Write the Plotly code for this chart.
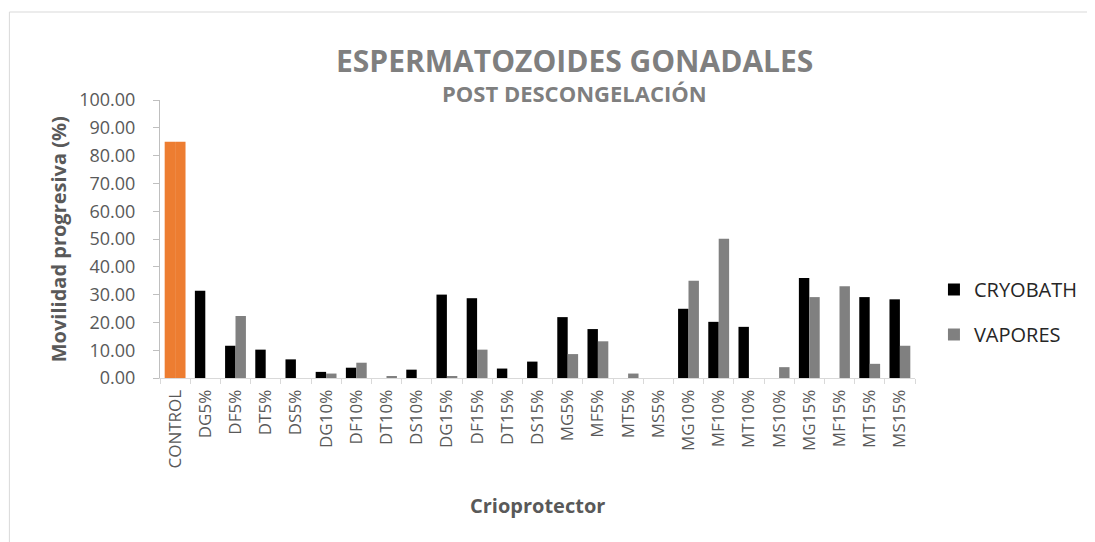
import plotly.graph_objects as go

# ---- data ----
control_label = "CONTROL"
control_value = 85.0
treatments = ["DG5%", "DF5%", "DT5%", "DS5%", "DG10%", "DF10%", "DT10%", "DS10%",
              "DG15%", "DF15%", "DT15%", "DS15%", "MG5%", "MF5%", "MT5%", "MS5%",
              "MG10%", "MF10%", "MT10%", "MS10%", "MG15%", "MF15%", "MT15%", "MS15%"]
cryobath = [31.4, 11.6, 10.2, 6.7, 2.2, 3.7, 0.0, 3.0,
            30.0, 28.7, 3.4, 5.9, 21.9, 17.6, 0.0, 0.0,
            24.9, 20.2, 18.4, 0.0, 36.0, 0.0, 29.1, 28.3]
vapores = [0.0, 22.3, 0.0, 0.0, 1.6, 5.5, 0.5, 0.0,
           0.5, 10.2, 0.0, 0.0, 8.6, 13.2, 1.6, 0.0,
           35.0, 50.1, 0.0, 3.9, 29.1, 33.0, 5.1, 11.6]
y_ticks = [0, 10, 20, 30, 40, 50, 60, 70, 80, 90, 100]

categories = [control_label] + treatments

# ---- geometry (page body has an 8px margin) ----
OFF = 8
W, H = 1095 - OFF, 542 - OFF
PL, PT = 160, 100          # plot area top-left on screen
PW, PH = 757, 278          # plot area size
L, T = PL - OFF, PT - OFF
R, B = W - L - PW, H - T - PH


def px(x):
    return (x - PL) / PW


def py(y):
    return (PT + PH - y) / PH


GREY_TXT = "#595959"
FONT = "Open Sans"

fig = go.Figure()
fig.add_trace(go.Bar(name="CRYOBATH", x=treatments, y=cryobath, marker_color="#000000",
                     marker_line_width=0, offsetgroup="a", legendgroup="a"))
fig.add_trace(go.Bar(name="VAPORES", x=treatments, y=vapores, marker_color="#808080",
                     marker_line_width=0, offsetgroup="b", legendgroup="b"))
# control drawn in orange across both slots
fig.add_trace(go.Bar(name=control_label, x=[control_label], y=[control_value], marker_color="#ED7D31",
                     marker_line_width=0, offsetgroup="a", showlegend=False))
fig.add_trace(go.Bar(name=control_label, x=[control_label], y=[control_value], marker_color="#ED7D31",
                     marker_line_width=0, offsetgroup="b", showlegend=False))

fig.update_layout(
    width=W, height=H,
    margin=dict(l=L, r=R, t=T, b=B, pad=0),
    paper_bgcolor="white", plot_bgcolor="white",
    barmode="group", bargap=0.31, bargroupgap=0,
    font=dict(family=FONT, color=GREY_TXT),
    legend=dict(x=px(936), y=py(270), xanchor="left", yanchor="top",
                font=dict(size=20, color="#262626", family=FONT),
                traceorder="grouped", tracegroupgap=16, itemwidth=30,
                bgcolor="rgba(0,0,0,0)"),
    xaxis=dict(categoryorder="array", categoryarray=categories,
               range=[-0.5, len(categories) - 0.5],
               tickangle=-90, tickfont=dict(size=17, color=GREY_TXT, family=FONT),
               showline=True, linecolor="#d9d9d9", linewidth=1,
               ticks="outside", tickson="boundaries", ticklen=5, tickcolor="#d9d9d9",
               ticklabelstandoff=4, showgrid=False, zeroline=False),
    yaxis=dict(range=[0, 100], tickvals=y_ticks, tickformat=".2f",
               tickfont=dict(size=18, color=GREY_TXT, family=FONT),
               showline=True, linecolor="#bfbfbf", linewidth=1,
               ticks="outside", ticklen=6, tickcolor="#bfbfbf",
               ticklabelstandoff=14, showgrid=False, zeroline=False),
    annotations=[
        dict(text="<b>ESPERMATOZOIDES GONADALES</b>", x=px(576), y=py(60), xref="paper", yref="paper",
             showarrow=False, xanchor="center", yanchor="middle",
             font=dict(size=30, color="#7f7f7f", family=FONT)),
        dict(text="<b>POST DESCONGELACIÓN</b>", x=px(576), y=py(93), xref="paper", yref="paper",
             showarrow=False, xanchor="center", yanchor="middle",
             font=dict(size=22, color="#7f7f7f", family=FONT)),
        dict(text="<b>Movilidad progresiva (%)</b>", x=px(58), y=py(239), xref="paper", yref="paper",
             showarrow=False, xanchor="center", yanchor="middle", textangle=-90,
             font=dict(size=20, color=GREY_TXT, family=FONT)),
        dict(text="<b>Crioprotector</b>", x=px(538), y=py(505), xref="paper", yref="paper",
             showarrow=False, xanchor="center", yanchor="middle",
             font=dict(size=20, color=GREY_TXT, family=FONT)),
    ],
    shapes=[dict(type="rect", xref="paper", yref="paper",
                 x0=px(9), y0=py(12), x1=px(1110), y1=py(560),
                 line=dict(color="#d9d9d9", width=1), fillcolor="rgba(0,0,0,0)", layer="below")],
)

fig.write_html("out.html")
